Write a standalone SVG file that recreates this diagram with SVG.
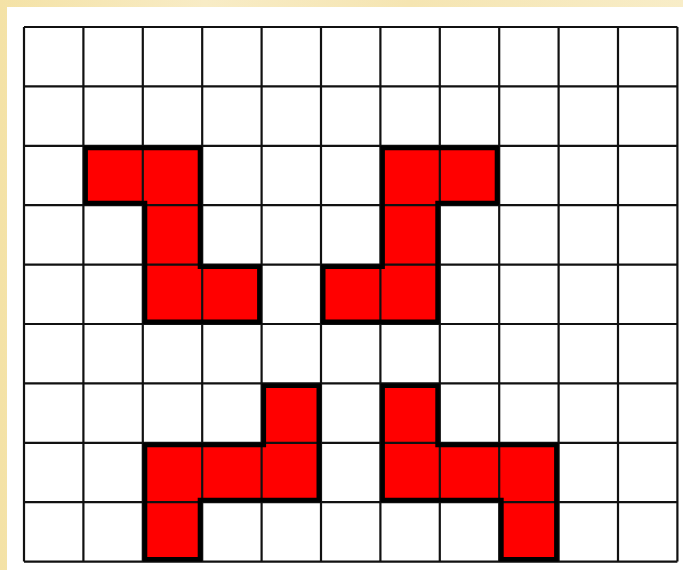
<svg xmlns="http://www.w3.org/2000/svg" xmlns:xlink="http://www.w3.org/1999/xlink" width="683" height="570" viewBox="0 0 683 570">
  <style>
    .grid line { stroke: #111; stroke-width: 2.2; }
    .fill { fill: #FF0000; }
    .outline { fill: none; stroke: #000; stroke-width: 9; }
  </style>
  <defs>
    <linearGradient id="bgGrad" x1="0" y1="0" x2="1" y2="0">
      <stop offset="0" stop-color="#F4E2A6"/>
      <stop offset="0.3" stop-color="#F8ECC6"/>
      <stop offset="0.6" stop-color="#F5E5B2"/>
      <stop offset="1" stop-color="#F8EDC8"/>
    </linearGradient>
    <path id="s1" d="M83.4,145.8 H202.2 V264.6 H261.6 V324 H142.8 V205.2 H83.4 Z"/>
    <path id="s2" d="M380.4,145.8 H499.2 V205.2 H439.8 V324 H321 V264.6 H380.4 Z"/>
    <path id="s3" d="M261.6,383.4 H321 V502.2 H202.2 V561.6 H142.8 V442.8 H261.6 Z"/>
    <path id="s4" d="M380.4,383.4 H439.8 V442.8 H558.6 V561.6 H499.2 V502.2 H380.4 Z"/>
    <clipPath id="c1"><use xlink:href="#s1"/></clipPath>
    <clipPath id="c2"><use xlink:href="#s2"/></clipPath>
    <clipPath id="c3"><use xlink:href="#s3"/></clipPath>
    <clipPath id="c4"><use xlink:href="#s4"/></clipPath>
  </defs>

  <rect x="0" y="0" width="683" height="570" fill="url(#bgGrad)"/>
  <rect x="7" y="7" width="676" height="563" fill="#FFFFFF"/>

  <g id="fills">
    <use xlink:href="#s1" class="fill"/>
    <use xlink:href="#s2" class="fill"/>
    <use xlink:href="#s3" class="fill"/>
    <use xlink:href="#s4" class="fill"/>
  </g>

  <g id="grid" class="grid">
    <line x1="24" y1="27" x2="24" y2="561.6"/>
    <line x1="83.4" y1="27" x2="83.4" y2="561.6"/>
    <line x1="142.8" y1="27" x2="142.8" y2="561.6"/>
    <line x1="202.2" y1="27" x2="202.2" y2="561.6"/>
    <line x1="261.6" y1="27" x2="261.6" y2="561.6"/>
    <line x1="321" y1="27" x2="321" y2="561.6"/>
    <line x1="380.4" y1="27" x2="380.4" y2="561.6"/>
    <line x1="439.8" y1="27" x2="439.8" y2="561.6"/>
    <line x1="499.2" y1="27" x2="499.2" y2="561.6"/>
    <line x1="558.6" y1="27" x2="558.6" y2="561.6"/>
    <line x1="618" y1="27" x2="618" y2="561.6"/>
    <line x1="677.4" y1="27" x2="677.4" y2="561.6"/>
    <line x1="24" y1="27" x2="677.4" y2="27"/>
    <line x1="24" y1="86.4" x2="677.4" y2="86.4"/>
    <line x1="24" y1="145.8" x2="677.4" y2="145.8"/>
    <line x1="24" y1="205.2" x2="677.4" y2="205.2"/>
    <line x1="24" y1="264.6" x2="677.4" y2="264.6"/>
    <line x1="24" y1="324" x2="677.4" y2="324"/>
    <line x1="24" y1="383.4" x2="677.4" y2="383.4"/>
    <line x1="24" y1="442.8" x2="677.4" y2="442.8"/>
    <line x1="24" y1="502.2" x2="677.4" y2="502.2"/>
    <line x1="24" y1="561.6" x2="677.4" y2="561.6"/>
  </g>

  <g id="shape1"><use xlink:href="#s1" class="outline" clip-path="url(#c1)"/></g>
  <g id="shape2"><use xlink:href="#s2" class="outline" clip-path="url(#c2)"/></g>
  <g id="shape3"><use xlink:href="#s3" class="outline" clip-path="url(#c3)"/></g>
  <g id="shape4"><use xlink:href="#s4" class="outline" clip-path="url(#c4)"/></g>
</svg>
